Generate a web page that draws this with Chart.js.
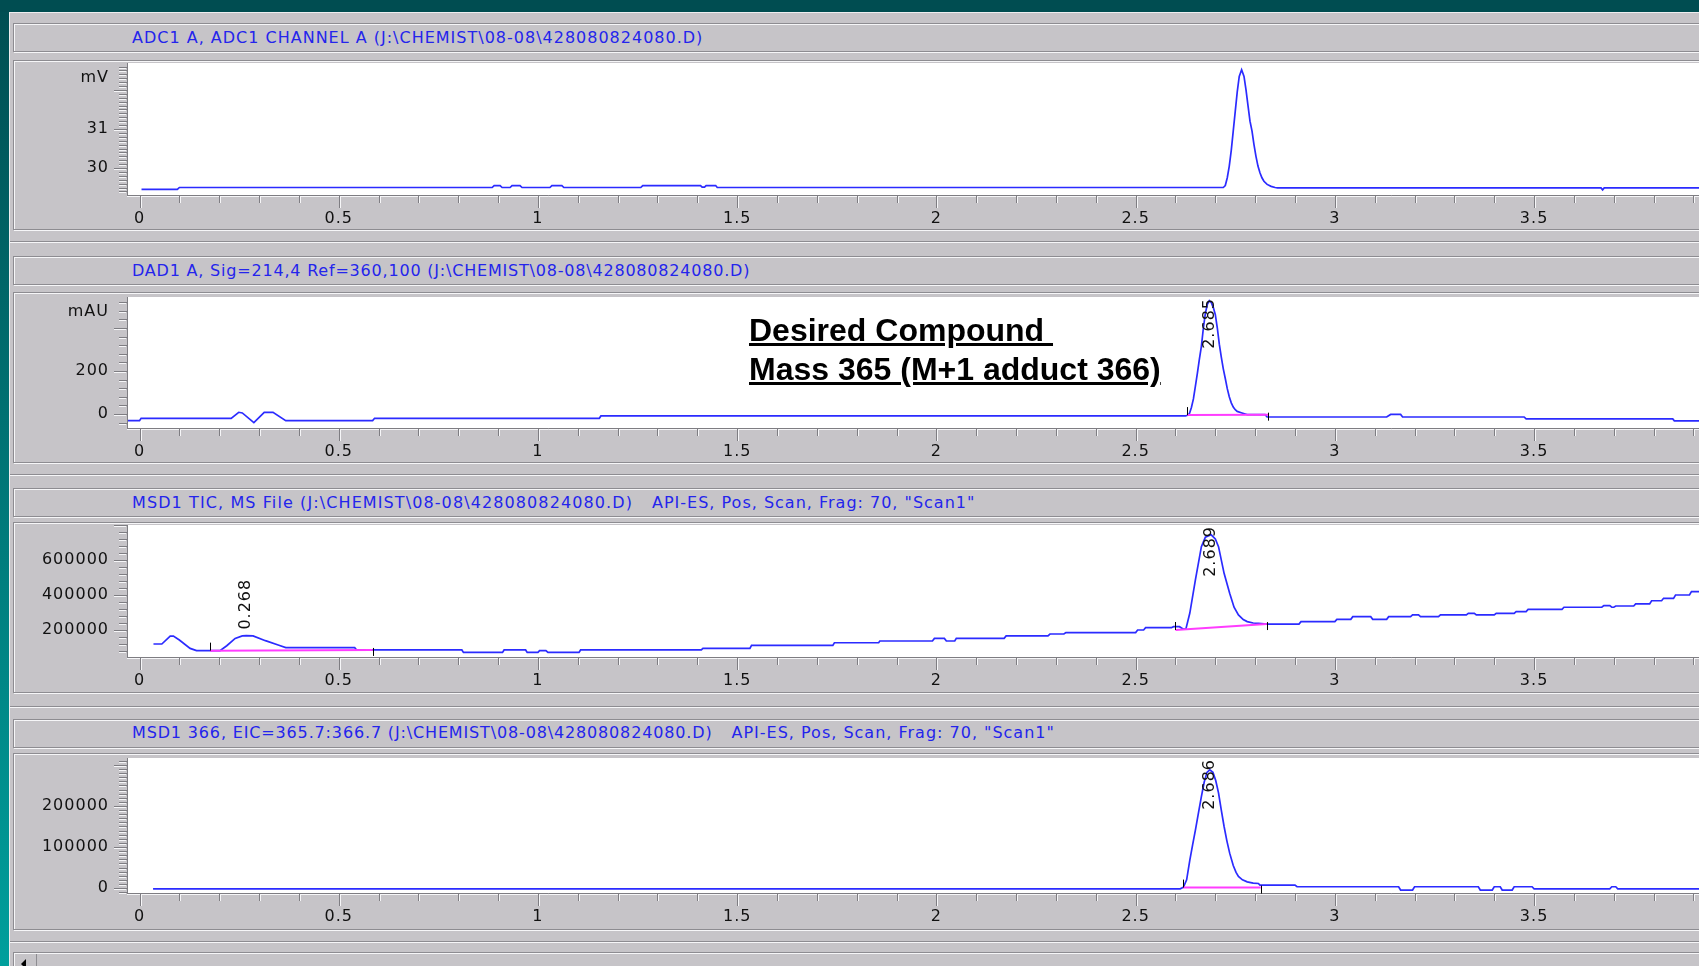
<!DOCTYPE html>
<html>
<head>
<meta charset="utf-8">
<title>428080824080.D</title>
<script src="https://cdn.jsdelivr.net/npm/chart.js@4.4.1/dist/chart.umd.min.js"></script>
<style>
  html, body { margin:0; padding:0; width:1699px; height:966px; overflow:hidden; background:#004d51; }
  .abs { position:absolute; }
  #win { left:9px; top:12px; width:1720px; height:960px; background:#c6c4c8; box-shadow: inset 1px 1px 0 #eeeef0; }
  #edge { left:0; top:12px; width:9px; height:954px; background:linear-gradient(#004f53, #009f9c); }
  .frame { position:absolute; left:13px; width:1720px; box-sizing:border-box; border:1px solid #8d8c91;
           box-shadow: inset 1px 1px 0 #f6f6f8, 1px 1px 0 #f6f6f8; }
  .sep { position:absolute; left:10px; width:1720px; height:1px; background:#8d8c91; box-shadow: 0 1px 0 #f6f6f8; }
  .title { position:absolute; left:132px; height:20px; font-family:"DejaVu Sans"; font-size:16px; line-height:20px;
           letter-spacing:1px; color:#2424ec; white-space:pre; }
  .title .gap { margin-left:19px; letter-spacing:1px; }
  canvas { position:absolute; left:0; }
  #note { position:absolute; left:749px; top:311px; font-family:"Liberation Sans", Arial, sans-serif; font-weight:bold;
          font-size:32px; line-height:39px; color:#000; white-space:pre; }
  #note span { text-decoration:underline; }
</style>
</head>
<body>
<div id="win" class="abs"></div>
<div id="edge" class="abs"></div>

<!-- ADC1 A -->
<div class="frame" style="top:23px;height:29px"></div>
<div class="title" style="top:28px">ADC1 A, ADC1 CHANNEL A (J:\CHEMIST\08-08\428080824080.D)</div>
<div class="frame" style="top:60px;height:170px"></div>

<!-- DAD1 A -->
<div class="sep" style="top:241px"></div>
<div class="frame" style="top:256px;height:29px"></div>
<div class="title" style="top:261px;letter-spacing:0.8px">DAD1 A, Sig=214,4 Ref=360,100 (J:\CHEMIST\08-08\428080824080.D)</div>
<div class="frame" style="top:292px;height:171px"></div>

<!-- MSD1 TIC -->
<div class="sep" style="top:474px"></div>
<div class="frame" style="top:488px;height:29px"></div>
<div class="title" style="top:493px;letter-spacing:1.1px">MSD1 TIC, MS File (J:\CHEMIST\08-08\428080824080.D)<span class="gap">API-ES, Pos, Scan, Frag: 70, "Scan1"</span></div>
<div class="frame" style="top:522px;height:171px"></div>

<!-- MSD1 366 EIC -->
<div class="sep" style="top:706px"></div>
<div class="frame" style="top:719px;height:29px"></div>
<div class="title" style="top:723px;letter-spacing:0.85px">MSD1 366, EIC=365.7:366.7 (J:\CHEMIST\08-08\428080824080.D)<span class="gap">API-ES, Pos, Scan, Frag: 70, "Scan1"</span></div>
<div class="frame" style="top:753px;height:177px"></div>

<!-- horizontal scroll bar -->
<div class="sep" style="top:941px"></div>
<div class="abs" style="left:13px;top:952px;width:1720px;height:16px;border-top:1px solid #8d8c91;border-left:1px solid #8d8c91;box-shadow:inset 1px 1px 0 #f6f6f8"></div>
<div class="abs" style="left:15px;top:954px;width:21px;height:14px;border-right:1px solid #8d8c91;"></div>
<div class="abs" style="left:21px;top:959px;width:0;height:0;border-top:5px solid transparent;border-bottom:5px solid transparent;border-right:5px solid #000"></div>

<canvas id="adc"></canvas>
<canvas id="dad"></canvas>
<canvas id="tic"></canvas>
<canvas id="eic"></canvas>

<div id="note"><span>Desired Compound </span>
<span>Mass 365 (M+1 adduct 366)</span></div>

<script>
// ---- retention time axis (min) ----
const timeTicks = [0, 0.5, 1, 1.5, 2, 2.5, 3, 3.5, 4];

// ---- ADC1 A, channel A (mV) ----
const adcTime = [0.005, 0.095, 0.100, 0.885, 0.890, 0.905, 0.910, 0.930, 0.935, 0.955, 0.960,
  1.030, 1.035, 1.060, 1.065, 1.258, 1.263, 1.408, 1.412, 1.418, 1.422, 1.446, 1.450,
  2.720, 2.725, 2.730, 2.735, 2.740, 2.745, 2.750, 2.755, 2.760, 2.766,
  2.772, 2.777, 2.782, 2.787, 2.792, 2.797, 2.802, 2.807, 2.812, 2.817, 2.822, 2.830, 2.840,
  2.850, 2.856, 3.668, 3.672, 3.676, 4.200];
const adcMv = [29.45, 29.45, 29.50, 29.50, 29.55, 29.55, 29.50, 29.50, 29.55, 29.55, 29.50,
  29.50, 29.55, 29.55, 29.50, 29.50, 29.55, 29.55, 29.51, 29.51, 29.55, 29.55, 29.50,
  29.50, 29.55, 29.75, 30.05, 30.45, 30.95, 31.45, 31.95, 32.35, 32.52,
  32.35, 32.00, 31.60, 31.20, 30.95, 30.60, 30.30, 30.05, 29.88, 29.75, 29.66, 29.58, 29.53,
  29.50, 29.49, 29.49, 29.44, 29.49, 29.49];
const adcTicks = [30, 31];

// ---- DAD1 A, 214 nm (mAU) ----
const dadTime = [-0.029, 0.000, 0.004, 0.230, 0.249, 0.258, 0.287, 0.313, 0.335, 0.367,
  0.585, 0.590, 1.154, 1.158, 2.625,
  2.630, 2.635, 2.640, 2.645, 2.650, 2.655, 2.660, 2.665, 2.670, 2.675, 2.680, 2.685, 2.690,
  2.695, 2.700, 2.705, 2.710, 2.715, 2.720, 2.725, 2.730, 2.735, 2.740, 2.745, 2.750, 2.755,
  2.765, 2.775, 2.780, 2.825, 2.830, 3.130, 3.140, 3.165, 3.170, 3.475, 3.480, 3.848, 3.852, 4.200];
const dadMau = [-31, -31, -20, -20, 8, 5, -40, 8, 8, -31,
  -31, -20, -20, -9, -9,
  -6, 2, 30, 70, 130, 190, 255, 315, 400, 468, 510, 527, 518,
  495, 462, 400, 325, 265, 210, 165, 118, 80, 52, 32, 20, 12,
  6, 0, -3, -3, -14, -14, -2, -2, -14, -14, -23, -23, -32, -32];
const dadTicks = [0, 200];
const dadPeaks = [2.685];
// integration baseline: start time, start value, end time, end value
const dadBaselines = [[2.630, -5, 2.833, -3]];

// ---- MSD1 TIC (counts) ----
const ticTime = [0.035, 0.056, 0.077, 0.085, 0.100, 0.127, 0.143, 0.202, 0.219, 0.240,
  0.258, 0.268, 0.285, 0.316, 0.348, 0.367, 0.540, 0.545, 0.809, 0.813,
  0.911, 0.915, 0.969, 0.973, 1.000, 1.004, 1.020, 1.025, 1.103, 1.107,
  1.410, 1.414, 1.532, 1.536, 1.740, 1.744, 1.855, 1.858, 1.990, 1.995,
  2.020, 2.025, 2.046, 2.050, 2.170, 2.175, 2.280, 2.285, 2.320, 2.325,
  2.500, 2.505, 2.520, 2.525, 2.590, 2.595, 2.610, 2.620, 2.626, 2.636,
  2.650, 2.665, 2.675, 2.689, 2.700, 2.708, 2.722, 2.736, 2.747, 2.758,
  2.770, 2.780, 2.795, 2.808, 2.830, 2.910, 2.915, 3.000, 3.005, 3.040,
  3.045, 3.090, 3.095, 3.130, 3.135, 3.190, 3.195, 3.210, 3.215, 3.260,
  3.265, 3.330, 3.335, 3.350, 3.355, 3.400, 3.405, 3.450, 3.455, 3.480,
  3.485, 3.570, 3.575, 3.670, 3.675, 3.690, 3.695, 3.700, 3.705, 3.750,
  3.755, 3.790, 3.795, 3.820, 3.825, 3.850, 3.855, 3.890, 3.895, 3.940,
  3.945, 4.000, 4.100, 4.200];
const ticCounts = [120000, 120000, 165000, 165000, 143000, 95000, 82000, 82000, 110000, 152000,
  166000, 168000, 166000, 139000, 114000, 99000, 99000, 86000, 86000, 72000,
  72000, 86000, 86000, 72000, 72000, 82000, 82000, 72000, 72000, 86000,
  86000, 95000, 95000, 112000, 112000, 127000, 127000, 137000, 137000, 152000,
  152000, 137000, 137000, 152000, 152000, 166000, 166000, 177000, 177000, 185000,
  185000, 200000, 200000, 213000, 213000, 219000, 219000, 205000, 205000, 297000,
  486000, 676000, 730000, 745000, 720000, 676000, 524000, 410000, 330000, 286000,
  260000, 248000, 240000, 238000, 234000, 234000, 248000, 248000, 261000, 261000,
  276000, 276000, 261000, 261000, 276000, 276000, 286000, 286000, 276000, 276000,
  286000, 286000, 295000, 295000, 286000, 286000, 295000, 295000, 305000, 305000,
  318000, 318000, 330000, 330000, 339000, 339000, 330000, 330000, 337000, 337000,
  349000, 349000, 367000, 367000, 381000, 381000, 400000, 400000, 419000, 419000,
  432000, 440000, 455000, 470000];
const ticTicks = [200000, 400000, 600000];
const ticPeaks = [0.268, 2.689];
const ticBaselines = [[0.177, 82000, 0.585, 86000], [2.600, 200000, 2.829, 234000]];

// ---- MSD1 366, EIC 365.7:366.7 (counts) ----
const eicTime = [0.034, 2.612, 2.620, 2.628, 2.636, 2.643, 2.650, 2.658, 2.665, 2.672,
  2.679, 2.686, 2.694, 2.701, 2.708, 2.715, 2.722, 2.729, 2.736, 2.745,
  2.752, 2.758, 2.768, 2.780, 2.795, 2.808, 2.812, 2.900, 2.905, 3.160,
  3.165, 3.195, 3.200, 3.360, 3.365, 3.395, 3.400, 3.415, 3.420, 3.445,
  3.450, 3.495, 3.500, 3.690, 3.695, 3.705, 3.710, 4.200];
const eicCounts = [-2000, -2000, 2000, 20000, 68000, 105000, 141000, 185000, 223000, 258000,
  282000, 288000, 282000, 262000, 232000, 190000, 150000, 115000, 85000, 55000,
  38000, 28000, 20000, 15000, 12000, 11000, 7000, 7000, 3000, 3000,
  -5000, -5000, 3000, 3000, -5000, -5000, 3000, 3000, -5000, -5000,
  3000, 3000, -2000, -2000, 3000, 3000, -2000, -2000];
const eicTicks = [0, 100000, 200000];
const eicPeaks = [2.686];
const eicBaselines = [[2.619, 1000, 2.814, 1000]];

// ---- layout / style ----
const TIME_MIN = -0.0289;
const TIME_MAX = 4.2;
const PX_PER_MIN = 398.5;
const PLOT_LEFT = 128;
const CANVAS_W = Math.round(PLOT_LEFT + (TIME_MAX - TIME_MIN) * PX_PER_MIN);
const TRACE = '#2b2bff';
const BASELINE = '#ff3cff';
const AXIS_DARK = '#7e7d82';
const AXIS_LIGHT = '#f6f6f8';
const TEXT = '#111111';
const FONT = '16px "DejaVu Sans"';

const panels = [
  { id: 'adc', time: adcTime, values: adcMv, labels: adcTicks, unit: 'mV', yMin: 29.308, yMax: 32.692,
    minor: 0.1, major: 1, baselines: [], peaks: [], frameTop: 60, frameHeight: 170, plotTop: 63, axisY: 195 },
  { id: 'dad', time: dadTime, values: dadMau, labels: dadTicks, unit: 'mAU', yMin: -65.1, yMax: 544.2,
    minor: 40, major: 200, baselines: dadBaselines, peaks: dadPeaks, frameTop: 292, frameHeight: 171, plotTop: 297, axisY: 428 },
  { id: 'tic', time: ticTime, values: ticCounts, labels: ticTicks, unit: '', yMin: 45714, yMax: 800000,
    minor: 40000, major: 200000, baselines: ticBaselines, peaks: ticPeaks, frameTop: 522, frameHeight: 171, plotTop: 525, axisY: 657 },
  { id: 'eic', time: eicTime, values: eicCounts, labels: eicTicks, unit: '', yMin: -12195, yMax: 317073,
    minor: 10000, major: 100000, baselines: eicBaselines, peaks: eicPeaks, frameTop: 753, frameHeight: 177, plotTop: 758, axisY: 893 }
];

function seg(ctx, x1, y1, x2, y2) {
  ctx.beginPath(); ctx.moveTo(x1, y1); ctx.lineTo(x2, y2); ctx.stroke();
}

function valueAt(times, values, t) {
  let best = 0;
  for (let i = 1; i < times.length; i++) {
    if (Math.abs(times[i] - t) < Math.abs(times[best] - t)) best = i;
  }
  return values[best];
}

// White plot field, etched axes with major/minor ticks, unit, peak labels and integration marks
function chromPlugin(p) {
  return {
    id: 'chromFrame',
    beforeDraw(chart) {
      const { ctx, chartArea: a } = chart;
      ctx.letterSpacing = '1px';
      ctx.save();
      ctx.fillStyle = '#ffffff';
      ctx.fillRect(a.left, a.top, a.right - a.left, a.bottom - a.top);
      ctx.restore();
    },
    afterDraw(chart) {
      const { ctx, chartArea: a } = chart;
      const xs = chart.scales.x, ys = chart.scales.y;
      ctx.save();
      ctx.lineWidth = 1;

      ctx.strokeStyle = AXIS_DARK;
      seg(ctx, a.left - 0.5, a.top, a.left - 0.5, a.bottom + 1);
      seg(ctx, a.left - 1, a.bottom + 0.5, a.right, a.bottom + 0.5);
      ctx.strokeStyle = AXIS_LIGHT;
      seg(ctx, a.left - 1, a.bottom + 1.5, a.right, a.bottom + 1.5);

      // time ticks every 0.1 min, long every 0.5 min
      const k0 = Math.ceil(TIME_MIN * 10), k1 = Math.floor(TIME_MAX * 10);
      for (let k = Math.max(k0, 0); k <= k1; k++) {
        const px = Math.round(xs.getPixelForValue(k / 10)) + 0.5;
        const len = k % 5 === 0 ? 11 : 6;
        ctx.strokeStyle = AXIS_DARK;
        seg(ctx, px, a.bottom + 1, px, a.bottom + 2 + len);
        ctx.strokeStyle = AXIS_LIGHT;
        seg(ctx, px + 1, a.bottom + 2, px + 1, a.bottom + 2 + len);
      }

      // signal ticks
      const ratio = Math.round(p.major / p.minor);
      const j0 = Math.ceil(p.yMin / p.minor - 1e-9), j1 = Math.floor(p.yMax / p.minor + 1e-9);
      for (let j = j0; j <= j1; j++) {
        const py = Math.round(ys.getPixelForValue(j * p.minor)) + 0.5;
        if (py < a.top || py > a.bottom) continue;
        const len = (j % ratio === 0) ? 13 : 8;
        ctx.strokeStyle = AXIS_DARK;
        seg(ctx, a.left - 1 - len, py, a.left - 1, py);
        ctx.strokeStyle = AXIS_LIGHT;
        seg(ctx, a.left - 1 - len, py + 1, a.left - 2, py + 1);
      }

      ctx.font = FONT;
      ctx.fillStyle = TEXT;
      if (p.unit) {
        ctx.textAlign = 'right';
        ctx.textBaseline = 'middle';
        ctx.fillText(p.unit, a.left - 19, a.top + 15);
      }

      // integration start / end marks
      ctx.strokeStyle = '#000000';
      p.baselines.forEach(b => {
        const sx = Math.round(xs.getPixelForValue(b[0])) + 0.5, sy = ys.getPixelForValue(b[1]);
        const ex = Math.round(xs.getPixelForValue(b[2])) + 0.5, ey = ys.getPixelForValue(b[3]);
        seg(ctx, sx, sy - 8, sx, sy);
        seg(ctx, ex, ey - 2, ex, ey + 6);
      });

      // retention time labels, rotated, above each apex
      ctx.beginPath();
      ctx.rect(a.left, a.top, a.right - a.left, a.bottom - a.top);
      ctx.clip();
      p.peaks.forEach(t => {
        const text = t.toFixed(3);
        const w = ctx.measureText(text).width;
        const px = xs.getPixelForValue(t);
        const py = ys.getPixelForValue(valueAt(p.time, p.values, t));
        let bottom = py - 6;
        if (bottom - w < a.top + 1) bottom = a.top + 1 + w;
        ctx.save();
        ctx.translate(px, bottom);
        ctx.rotate(-Math.PI / 2);
        ctx.textAlign = 'left';
        ctx.textBaseline = 'middle';
        ctx.fillText(text, 0, 0);
        ctx.restore();
      });
      ctx.restore();
    }
  };
}

panels.forEach(p => {
  const canvas = document.getElementById(p.id);
  canvas.width = CANVAS_W;
  canvas.height = p.frameHeight;
  canvas.style.top = p.frameTop + 'px';
  canvas.style.width = CANVAS_W + 'px';
  canvas.style.height = p.frameHeight + 'px';

  const datasets = [{
    data: p.time.map((t, i) => ({ x: t, y: p.values[i] })),
    borderColor: TRACE, borderWidth: 1.7, pointRadius: 0, tension: 0, order: 1
  }];
  p.baselines.forEach(b => datasets.push({
    data: [{ x: b[0], y: b[1] }, { x: b[2], y: b[3] }],
    borderColor: BASELINE, borderWidth: 2, pointRadius: 0, tension: 0, order: 0
  }));

  const tickFont = { family: '"DejaVu Sans"', size: 16 };
  new Chart(canvas, {
    type: 'line',
    data: { datasets },
    options: {
      responsive: false,
      animation: false,
      devicePixelRatio: 1,
      layout: { padding: { top: p.plotTop - p.frameTop, left: 0, right: 0, bottom: 0 } },
      plugins: { legend: { display: false }, tooltip: { enabled: false } },
      scales: {
        x: {
          type: 'linear', min: TIME_MIN, max: TIME_MAX,
          grid: { display: false, drawTicks: false }, border: { display: false },
          afterBuildTicks: s => { s.ticks = timeTicks.map(v => ({ value: v })); },
          afterFit: s => {
            s.height = p.frameHeight - (p.axisY - p.frameTop);
            s.paddingLeft = 0; s.paddingRight = 0;
          },
          ticks: { autoSkip: false, maxRotation: 0, padding: 14, color: TEXT, font: tickFont, callback: v => String(v) }
        },
        y: {
          type: 'linear', min: p.yMin, max: p.yMax,
          grid: { display: false, drawTicks: false }, border: { display: false },
          afterBuildTicks: s => { s.ticks = p.labels.map(v => ({ value: v })); },
          afterFit: s => {
            s.width = PLOT_LEFT;
            s.paddingTop = 0; s.paddingBottom = 0;
          },
          ticks: { autoSkip: false, padding: 19, color: TEXT, font: tickFont, callback: v => String(v) }
        }
      }
    },
    plugins: [chromPlugin(p)]
  });
});
</script>
</body>
</html>
